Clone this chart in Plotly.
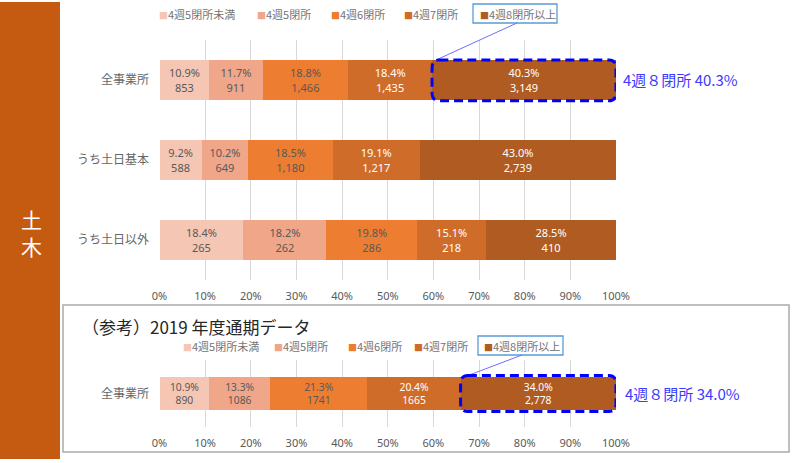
import plotly.graph_objects as go

# ---------------- data ----------------
categories = ['全事業所', 'うち土日基本', 'うち土日以外']
series_names = ['4週5閉所未満', '4週5閉所', '4週6閉所', '4週7閉所', '4週8閉所以上']

cnt_lt5 = [853, 588, 265]
cnt_5 = [911, 649, 262]
cnt_6 = [1466, 1180, 286]
cnt_7 = [1435, 1217, 218]
cnt_8 = [3149, 2739, 410]

pct_lt5 = ['10.9%', '9.2%', '18.4%']
pct_5 = ['11.7%', '10.2%', '18.2%']
pct_6 = ['18.8%', '18.5%', '19.8%']
pct_7 = ['18.4%', '19.1%', '15.1%']
pct_8 = ['40.3%', '43.0%', '28.5%']

lbl_lt5 = ['853', '588', '265']
lbl_5 = ['911', '649', '262']
lbl_6 = ['1,466', '1,180', '286']
lbl_7 = ['1,435', '1,217', '218']
lbl_8 = ['3,149', '2,739', '410']

ref_category = ['全事業所']
ref_counts = [890, 1086, 1741, 1665, 2778]
ref_pct = ['10.9%', '13.3%', '21.3%', '20.4%', '34.0%']
ref_lbl = ['890', '1086', '1741', '1665', '2,778']

x_ticks = [0, 10, 20, 30, 40, 50, 60, 70, 80, 90, 100]
x_ticklabels = ['0%', '10%', '20%', '30%', '40%', '50%', '60%', '70%', '80%', '90%', '100%']

# ---------------- styling ----------------
colors = ['#F5C6B4', '#F0A689', '#ED7D31', '#D06C2A', '#B05B22']
text_colors = ['#595959', '#595959', '#595959', '#FFFFFF', '#FFFFFF']
FONT = 'Noto Sans, Noto Sans CJK JP, sans-serif'
JFONT = 'Noto Sans CJK JP, sans-serif'
W, H = 800, 463


def px(x):
    return x / W


def py(y):
    return 1 - y / H


top_counts = [cnt_lt5, cnt_5, cnt_6, cnt_7, cnt_8]
top_pcts = [pct_lt5, pct_5, pct_6, pct_7, pct_8]
top_lbls = [lbl_lt5, lbl_5, lbl_6, lbl_7, lbl_8]

fig = go.Figure()

for i, name in enumerate(series_names):
    fig.add_trace(go.Bar(
        name=name, orientation='h', y=categories, x=top_counts[i],
        text=[f'{p}<br>{c}' for p, c in zip(top_pcts[i], top_lbls[i])],
        textposition='inside', insidetextanchor='middle', textangle=0,
        textfont=dict(family=FONT, size=11, color=text_colors[i]),
        marker=dict(color=colors[i], line=dict(width=0)),
        xaxis='x', yaxis='y', showlegend=False,
    ))
    fig.add_trace(go.Bar(
        name=name, orientation='h', y=ref_category, x=[ref_counts[i]],
        text=[f'{ref_pct[i]}<br>{ref_lbl[i]}'],
        textposition='inside', insidetextanchor='middle', textangle=0,
        textfont=dict(family=FONT, size=11, color=text_colors[i]),
        marker=dict(color=colors[i], line=dict(width=0)),
        xaxis='x2', yaxis='y2', showlegend=False,
    ))

axis_common = dict(
    range=[0, 100], tickvals=x_ticks, ticktext=x_ticklabels, automargin=False,
    showgrid=True, gridcolor='#D9D9D9', gridwidth=1, zeroline=False,
    showline=False, ticks='outside', ticklen=6, tickcolor='rgba(0,0,0,0)',
    tickfont=dict(family=FONT, size=11, color='#595959'), fixedrange=True,
)
yaxis_common = dict(
    showgrid=False, zeroline=False, showline=False, automargin=False,
    ticks='outside', ticklen=7, tickcolor='rgba(0,0,0,0)',
    tickfont=dict(family=JFONT, size=12, color='#666666'),
)

fig.update_layout(
    width=W, height=H, autosize=False, margin=dict(l=0, r=0, t=0, b=0, pad=0),
    paper_bgcolor='white', plot_bgcolor='white', showlegend=False,
    barmode='stack', barnorm='percent', bargap=0.5,
    xaxis=dict(domain=[px(159.5), px(616)], anchor='y', **axis_common),
    yaxis=dict(domain=[py(280), py(40)], anchor='x', range=[2.5, -0.5],
               type='category', **yaxis_common),
    xaxis2=dict(domain=[px(159.5), px(616)], anchor='y2', **axis_common),
    yaxis2=dict(domain=[py(427), py(360)], anchor='x2', range=[0.5, -0.5],
                type='category', **yaxis_common),
)

shapes = []
annotations = []

# left orange panel
shapes.append(dict(type='rect', xref='paper', yref='paper', x0=0, x1=px(60),
                   y0=py(459), y1=py(2), fillcolor='#C55A11', line=dict(width=0), layer='below'))
annotations.append(dict(text='土<br>木', xref='paper', yref='paper', x=px(31), y=py(233),
                        showarrow=False, xanchor='center', yanchor='middle',
                        font=dict(family=JFONT, size=21, color='white')))

# bottom reference frame
shapes.append(dict(type='rect', xref='paper', yref='paper', x0=px(63), x1=px(789),
                   y0=py(452), y1=py(305), line=dict(color='#ABABAB', width=1.5),
                   fillcolor='rgba(0,0,0,0)', layer='below'))
annotations.append(dict(text='（参考）2019 年度通期データ', xref='paper', yref='paper',
                        x=px(80), y=py(326), xanchor='left', yanchor='middle', showarrow=False,
                        font=dict(family=JFONT, size=17, color='#262626')))


# manual legends
def legend_items(xs, yc):
    for name, col, x in zip(series_names, colors, xs):
        annotations.append(dict(
            text=f'<span style="color:{col};font-size:9px">■</span>{name}',
            xref='paper', yref='paper', x=px(x), y=py(yc), xanchor='left', yanchor='middle',
            showarrow=False, font=dict(family=JFONT, size=11, color='#737373')))


legend_items([157, 255, 329, 402, 478], 14)
legend_items([181, 272, 346, 412, 482], 346)

# legend highlight boxes + leader lines
shapes.append(dict(type='rect', xref='paper', yref='paper', x0=px(473), x1=px(557),
                   y0=py(23), y1=py(4), line=dict(color='#5B9BD5', width=1.3)))
shapes.append(dict(type='line', xref='paper', yref='paper', x0=px(517), y0=py(23),
                   x1=px(436), y1=py(60), line=dict(color='#6F6FFF', width=1)))
shapes.append(dict(type='rect', xref='paper', yref='paper', x0=px(478), x1=px(563),
                   y0=py(355), y1=py(336), line=dict(color='#5B9BD5', width=1.3)))
shapes.append(dict(type='line', xref='paper', yref='paper', x0=px(522), y0=py(355),
                   x1=px(464), y1=py(377), line=dict(color='#6F6FFF', width=1)))


def rounded_box(x0, x1, y0, y1, rx, ry, xref, yref):
    p = (f'M {x0 + rx},{y0} L {x1 - rx},{y0} Q {x1},{y0} {x1},{y0 + ry} '
         f'L {x1},{y1 - ry} Q {x1},{y1} {x1 - rx},{y1} '
         f'L {x0 + rx},{y1} Q {x0},{y1} {x0},{y1 - ry} '
         f'L {x0},{y0 + ry} Q {x0},{y0} {x0 + rx},{y0} Z')
    return dict(type='path', path=p, xref=xref, yref=yref,
                line=dict(color='#0000FF', width=3, dash='9px,5px'))


# highlight dashed box around 4週8閉所以上 segment (first category)
top_share8 = 100 * cnt_8[0] / (cnt_lt5[0] + cnt_5[0] + cnt_6[0] + cnt_7[0] + cnt_8[0])
shapes.append(rounded_box(100 - top_share8, 100, -0.25, 0.26, 1.6, 0.1, 'x', 'y'))
ref_share8 = 100 * ref_counts[4] / sum(ref_counts)
shapes.append(rounded_box(100 - ref_share8, 100, -0.27, 0.27, 1.6, 0.12, 'x2', 'y2'))

annotations.append(dict(text=f'4週８閉所 {pct_8[0]}', xref='x', yref='y', x=100, y=0,
                        xanchor='left', yanchor='middle', xshift=5, showarrow=False,
                        font=dict(family=JFONT, size=15, color='#3B3BFF')))
annotations.append(dict(text=f'4週８閉所 {ref_pct[4]}', xref='x2', yref='y2', x=100, y=0,
                        xanchor='left', yanchor='middle', xshift=7, showarrow=False,
                        font=dict(family=JFONT, size=15, color='#3B3BFF')))

fig.update_layout(shapes=shapes, annotations=annotations)

fig.write_html(
    'out.html',
    config={'responsive': False, 'displayModeBar': False},
    post_script=("document.body.style.margin='0';document.body.style.padding='0';"
                 "document.documentElement.style.overflow='hidden';"),
)
